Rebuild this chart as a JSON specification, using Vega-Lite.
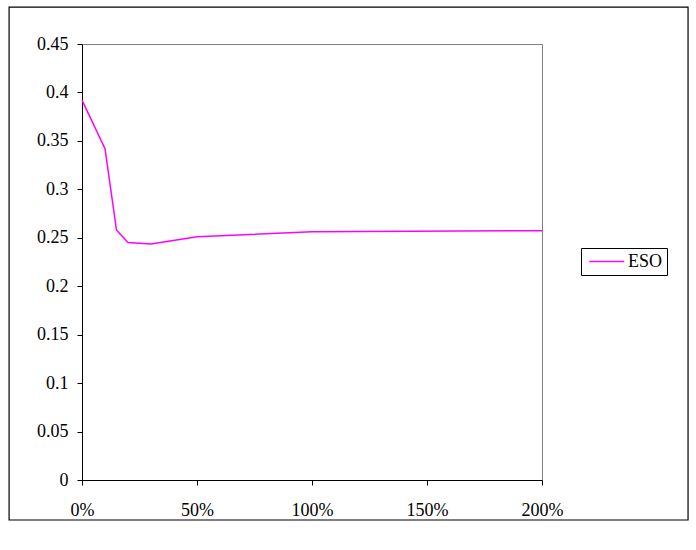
{
  "$schema": "https://vega.github.io/schema/vega-lite/v6.json",
  "width": 460,
  "height": 436,
  "autosize": {"type": "none"},
  "padding": {"left": 82, "top": 44, "right": 154, "bottom": 70},
  "background": "white",
  "config": {
    "font": "Liberation Serif",
    "view": {"stroke": "#808080", "strokeWidth": 1},
    "axis": {
      "grid": false,
      "domainColor": "black",
      "tickColor": "black",
      "tickSize": 5,
      "labelFontSize": 18,
      "labelColor": "black",
      "labelFont": "Liberation Serif",
      "labelFlush": false,
      "labelOverlap": false
    }
  },
  "datasets": {
    "eso": [
      {"pct": 0.0, "value": 0.392, "series": "ESO"},
      {"pct": 0.1, "value": 0.342, "series": "ESO"},
      {"pct": 0.15, "value": 0.258, "series": "ESO"},
      {"pct": 0.2, "value": 0.245, "series": "ESO"},
      {"pct": 0.3, "value": 0.2436, "series": "ESO"},
      {"pct": 0.5, "value": 0.251, "series": "ESO"},
      {"pct": 1.0, "value": 0.2563, "series": "ESO"},
      {"pct": 2.0, "value": 0.2573, "series": "ESO"}
    ]
  },
  "layer": [
    {
      "data": {"values": [{}]},
      "mark": {"type": "rect", "fill": null, "stroke": "black", "strokeWidth": 1.2, "clip": false},
      "encoding": {
        "x": {"datum": -0.317, "type": "quantitative", "scale": {"domain": [0, 2]},
          "axis": {"values": [0, 0.5, 1, 1.5, 2], "format": ".0%", "title": null, "labelPadding": 16}},
        "x2": {"datum": 2.635},
        "y": {"datum": -0.0413, "type": "quantitative", "scale": {"domain": [0, 0.45]},
          "axis": {"values": [0, 0.05, 0.1, 0.15, 0.2, 0.25, 0.3, 0.35, 0.4, 0.45], "format": ".2~f", "title": null, "labelPadding": 9}},
        "y2": {"datum": 0.488}
      }
    },
    {
      "data": {"name": "eso"},
      "mark": {"type": "line", "strokeWidth": 1.5, "clip": false},
      "encoding": {
        "x": {"field": "pct", "type": "quantitative", "scale": {"domain": [0, 2]},
          "axis": {"values": [0, 0.5, 1, 1.5, 2], "format": ".0%", "title": null, "labelPadding": 16}},
        "y": {"field": "value", "type": "quantitative", "scale": {"domain": [0, 0.45]},
          "axis": {"values": [0, 0.05, 0.1, 0.15, 0.2, 0.25, 0.3, 0.35, 0.4, 0.45], "format": ".2~f", "title": null, "labelPadding": 9}},
        "color": {
          "field": "series", "type": "nominal",
          "scale": {"range": ["#FF00FF"]},
          "legend": {
            "title": null,
            "orient": "none",
            "legendX": 499,
            "legendY": 204,
            "padding": 4,
            "strokeColor": "black",
            "fillColor": "white",
            "cornerRadius": 0,
            "symbolType": "M-0.6,0H3.4",
            "symbolSize": 306,
            "symbolStrokeWidth": 1.5,
            "labelFontSize": 18,
            "labelFont": "Liberation Serif",
            "labelColor": "black",
            "labelOffset": 24
          }
        }
      }
    }
  ]
}
